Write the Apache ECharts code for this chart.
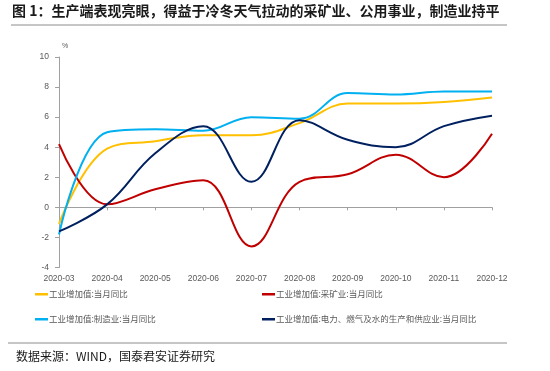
<!DOCTYPE html>
<html>
<head>
<meta charset="utf-8">
<script src="https://cdn.jsdelivr.net/npm/echarts@6/dist/echarts.min.js"></script>
<style>
html,body{margin:0;padding:0;background:#fff;}
#c{width:550px;height:371px;}
</style>
</head>
<body>
<div id="c"></div>
<script>
var categories = ['2020-03','2020-04','2020-05','2020-06','2020-07','2020-08','2020-09','2020-10','2020-11','2020-12'];
var seriesNames = ['工业增加值:当月同比','工业增加值:采矿业:当月同比','工业增加值:制造业:当月同比','工业增加值:电力、燃气及水的生产和供应业:当月同比'];
var totalVals = [-1.1, 3.9, 4.4, 4.8, 4.8, 5.6, 6.9, 6.9, 7.0, 7.3];
var miningVals = [4.2, 0.2, 1.2, 1.8, -2.6, 1.7, 2.2, 3.5, 2.0, 4.9];
var manufVals = [-1.8, 5.0, 5.2, 5.1, 6.0, 5.9, 7.6, 7.5, 7.7, 7.7];
var utilVals = [-1.6, 0.2, 3.6, 5.4, 1.7, 5.8, 4.5, 4.0, 5.4, 6.1];
var yTicks = {min: -4, max: 10, interval: 2};
var titleText = '图 1：生产端表现亮眼，得益于冷冬天气拉动的采矿业、公用事业，制造业持平';
var sourceText = '数据来源：WIND，国泰君安证券研究';

var colors = ['#FFC000', '#C00000', '#00B0F0', '#002060'];
var allVals = [totalVals, miningVals, manufVals, utilVals];
var cjk = '"Noto Sans CJK SC", "Noto Sans", sans-serif';
var latin = '"Liberation Sans", Arial, sans-serif';
var chart = echarts.init(document.getElementById('c'), null, {renderer: 'canvas'});

var legendPos = [[35, 290], [262, 290], [35, 315], [262, 315]];
var legends = seriesNames.map(function (n, i) {
  return {
    data: [n], left: legendPos[i][0], top: legendPos[i][1],
    icon: 'rect', itemWidth: 13, itemHeight: 2.5, itemGap: 2,
    padding: 0,
    textStyle: {color: '#595959', fontSize: 8.5, fontFamily: cjk, padding: [0, 0, 0, -4]}
  };
});

chart.setOption({
  animation: false,
  color: colors,
  grid: {left: 59, right: 58, top: 57, bottom: 103.5},
  legend: legends,
  xAxis: [{
    type: 'category', data: categories, boundaryGap: false, position: 'bottom',
    axisLine: {show: false, onZero: false}, axisTick: {show: false},
    axisLabel: {color: '#595959', fontSize: 8.5, fontFamily: latin, margin: 7, interval: 0}
  }, {
    type: 'category', data: categories, boundaryGap: false, position: 'bottom',
    axisLine: {show: true, onZero: true, lineStyle: {color: '#a0a0a0', width: 1}},
    axisTick: {show: true, length: 3, lineStyle: {color: '#a0a0a0'}, interval: 0},
    axisLabel: {show: false}
  }],
  yAxis: {
    type: 'value', min: yTicks.min, max: yTicks.max, interval: yTicks.interval,
    name: '%', nameLocation: 'end', nameGap: 7,
    nameTextStyle: {color: '#595959', fontSize: 7, align: 'left', padding: [0, 0, 0, 3]},
    axisLine: {show: true, lineStyle: {color: '#a0a0a0'}},
    axisTick: {show: true, length: 4, lineStyle: {color: '#a0a0a0'}},
    splitLine: {show: false},
    axisLabel: {color: '#595959', fontSize: 8.5, fontFamily: latin, margin: 10}
  },
  series: seriesNames.map(function (n, i) {
    return {
      name: n, type: 'line', data: allVals[i], smooth: 0.4, symbol: 'none',
      lineStyle: {width: 2, color: colors[i]}, xAxisIndex: 0
    };
  }),
  graphic: [
    {type: 'text', left: 12, top: 4, style: {text: titleText, fill: '#1a1a1a', font: 'bold 14px "Noto Sans CJK SC", sans-serif'}},
    {type: 'line', shape: {x1: 11, y1: 25, x2: 507, y2: 25}, style: {stroke: '#8c8c8c', lineWidth: 1}},
    {type: 'line', shape: {x1: 8, y1: 343, x2: 507, y2: 343}, style: {stroke: '#8c8c8c', lineWidth: 1}},
    {type: 'text', left: 16, top: 350, style: {text: sourceText, fill: '#1a1a1a', font: '12px "Noto Sans CJK SC", sans-serif'}}
  ]
});
</script>
</body>
</html>
